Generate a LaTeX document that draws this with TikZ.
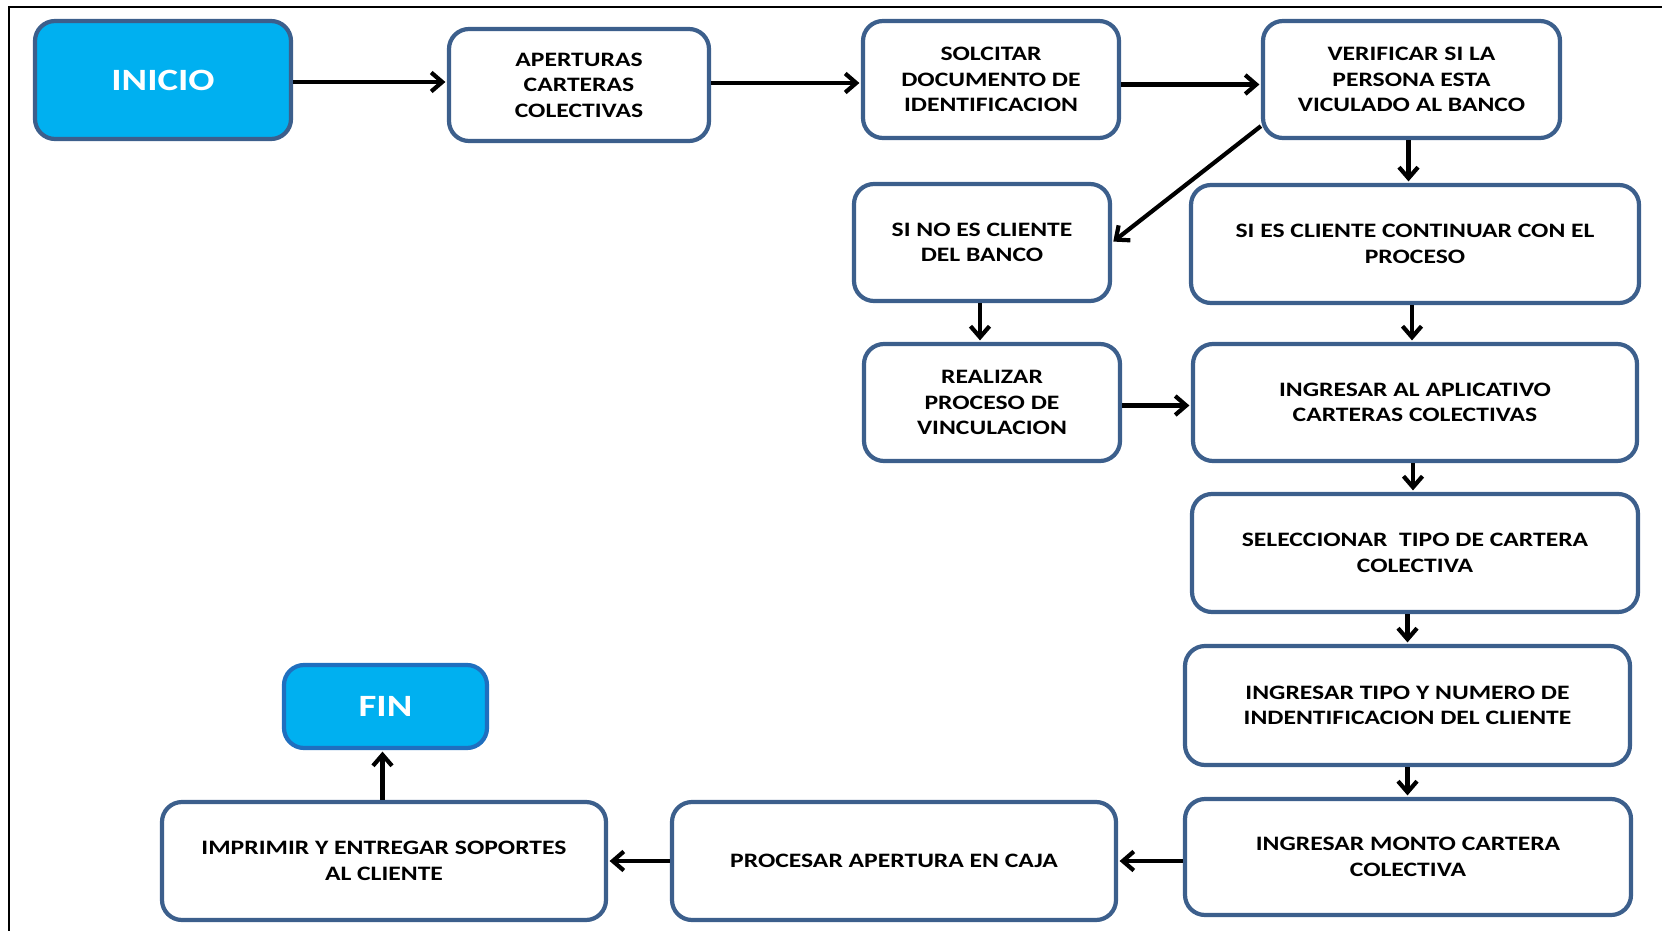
\documentclass[tikz,border=0pt]{standalone}
\usepackage{fontspec}
\setmainfont{Carlito}[FakeStretch=1.25]
\usetikzlibrary{arrows.meta,calc}

\definecolor{boxline}{HTML}{3C5F8C}
\definecolor{termfill}{HTML}{00B0F0}
\definecolor{endline}{HTML}{1F6FBF}

\tikzset{
  stepbox/.style={draw=boxline, line width=4.2pt, rounded corners=20pt, fill=white,
    align=center, inner sep=0pt, text=black,
    font=\bfseries\fontsize{20.5}{25.5}\selectfont},
  termbox/.style={stepbox, fill=termfill, text=white,
    font=\bfseries\fontsize{31}{36}\selectfont},
  flow/.style={line width=4.2pt, shorten >=1.5pt,
    -{Straight Barb[length=11pt,width=19pt]}},
  frameline/.style={line width=1.5pt, black}
}

\begin{document}
\begin{tikzpicture}[x=1pt,y=-1pt]
  \useasboundingbox (0,0) rectangle (1662,931);

  % outer frame (top and left edges fall inside the page)
  \draw[frameline] (9,931) -- (9,7) -- (1662,7);

  % process steps
  \node[termbox, minimum width=256pt, minimum height=118pt] (inicio) at (163,80) {INICIO};
  \node[stepbox, minimum width=260pt, minimum height=112pt] (apert) at (579,85) {APERTURAS\\CARTERAS\\COLECTIVAS};
  \node[stepbox, minimum width=256pt, minimum height=117pt] (docu) at (991,79.5) {SOLCITAR\\DOCUMENTO DE\\IDENTIFICACION};
  \node[stepbox, minimum width=297pt, minimum height=117pt] (verif) at (1411.5,79.5) {VERIFICAR SI LA\\PERSONA ESTA\\VICULADO AL BANCO};
  \node[stepbox, minimum width=256pt, minimum height=117pt] (nocli) at (982,242.5) {SI NO ES CLIENTE\\DEL BANCO};
  \node[stepbox, minimum width=448pt, minimum height=118pt] (sicli) at (1415,244) {SI ES CLIENTE CONTINUAR CON EL\\PROCESO};
  \node[stepbox, minimum width=256pt, minimum height=117pt] (vincu) at (992,402.5) {REALIZAR\\PROCESO DE\\VINCULACION};
  \node[stepbox, minimum width=444pt, minimum height=117pt] (aplic) at (1415,402.5) {INGRESAR AL APLICATIVO\\CARTERAS COLECTIVAS};
  \node[stepbox, minimum width=446pt, minimum height=118pt] (selec) at (1415,553) {SELECCIONAR\ \ TIPO DE CARTERA\\COLECTIVA};
  \node[stepbox, minimum width=445pt, minimum height=119pt] (ident) at (1407.5,705.5) {INGRESAR TIPO Y NUMERO DE\\INDENTIFICACION DEL CLIENTE};
  \node[stepbox, minimum width=446pt, minimum height=116pt] (monto) at (1408,857) {INGRESAR MONTO CARTERA\\COLECTIVA};
  \node[stepbox, minimum width=444pt, minimum height=118pt] (caja) at (894,861) {PROCESAR APERTURA EN CAJA};
  \node[stepbox, minimum width=444pt, minimum height=118pt] (soport) at (384,861) {IMPRIMIR Y ENTREGAR SOPORTES\\AL CLIENTE};
  \node[termbox, draw=endline, minimum width=203pt, minimum height=83pt] (fin) at (385.5,706.5) {FIN};

  % connectors
  \draw[flow] ($(inicio.east)+(0,2)$) -- ($(inicio.east -| apert.west)+(0,2)$);
  \draw[flow] ($(apert.east)+(0,-2)$) -- ($(apert.east -| docu.west)+(0,-2)$);
  \draw[flow] ($(docu.east)+(0,5)$) -- ($(docu.east -| verif.west)+(0,5)$);
  \draw[flow] ($(verif.south west)+(0,-14)$) -- (nocli.east);
  \draw[flow] ($(verif.south)+(-3,0)$) -- ($(verif.south |- sicli.north)+(-3,0)$);
  \draw[flow] ($(nocli.south)+(-2,0)$) -- ($(nocli.south |- vincu.north)+(-2,0)$);
  \draw[flow] ($(vincu.east)+(0,3)$) -- ($(vincu.east -| aplic.west)+(0,3)$);
  \draw[flow] ($(sicli.south)+(-3,0)$) -- ($(sicli.south |- aplic.north)+(-3,0)$);
  \draw[flow] ($(aplic.south)+(-2,0)$) -- ($(aplic.south |- selec.north)+(-2,0)$);
  \draw[flow] (selec.south -| ident.north) -- (ident.north);
  \draw[flow] (ident.south) -- (ident.south |- monto.north);
  \draw[flow] (caja.east -| monto.west) -- (caja.east);
  \draw[flow] (caja.west) -- (caja.west -| soport.east);
  \draw[flow] ($(soport.north -| fin.south)+(-3,0)$) -- ($(fin.south)+(-3,0)$);
\end{tikzpicture}
\end{document}
